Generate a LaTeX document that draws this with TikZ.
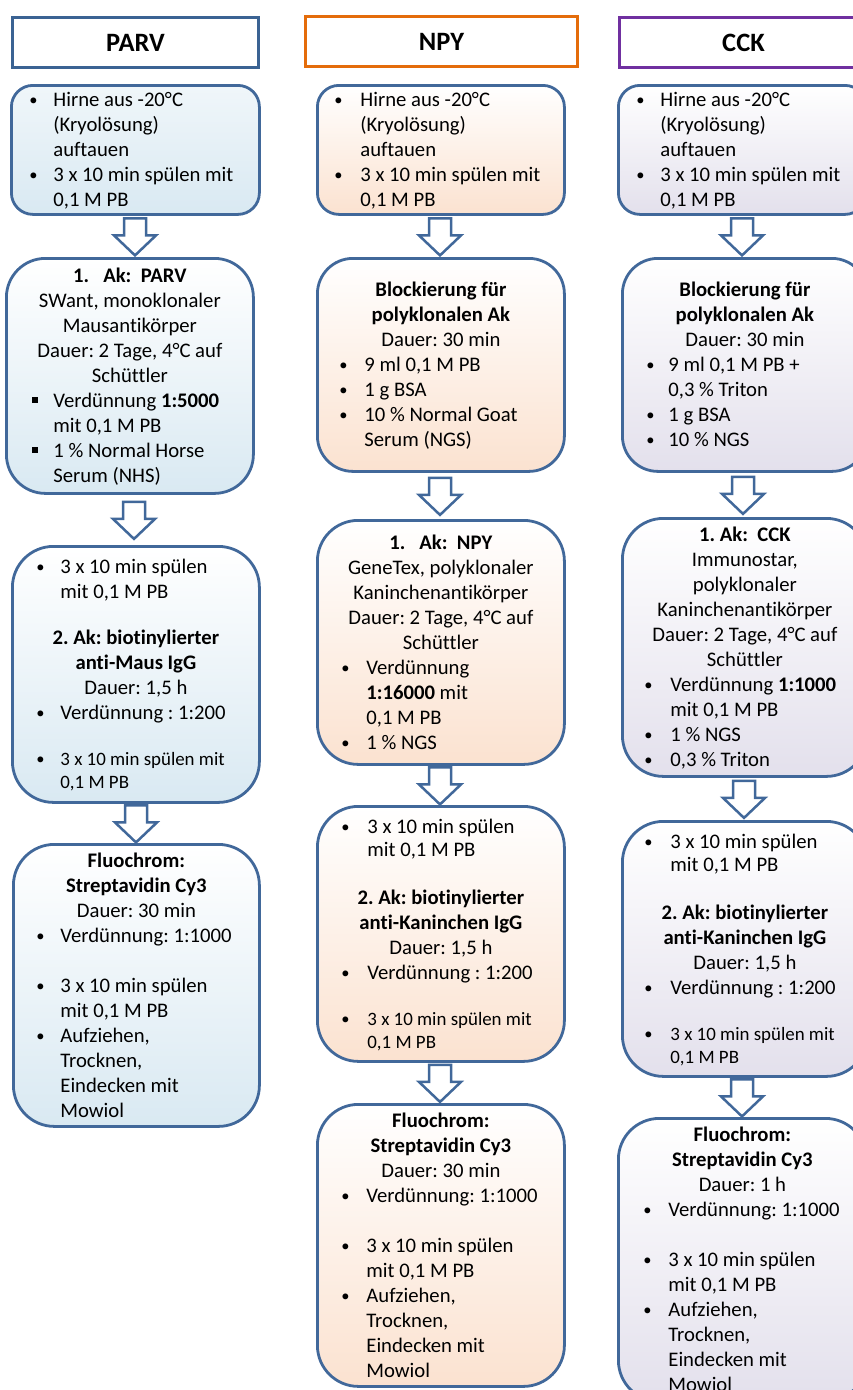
\documentclass[tikz,border=0pt]{standalone}
\usepackage{fontspec}
\setmainfont{Carlito}[Ligatures={NoCommon}]
\frenchspacing
\usetikzlibrary{calc}
\definecolor{bord}{HTML}{41689A}
\definecolor{parvh}{HTML}{3B6393}
\definecolor{npyh}{HTML}{E46C0A}
\definecolor{cckh}{HTML}{7030A0}
\definecolor{parvc}{HTML}{D9E9F2}
\definecolor{npyc}{HTML}{FBE2D0}
\definecolor{cckc}{HTML}{E3E0EC}
\newlength\bulind
\newlength\txtind
\newcommand\lnst{\vrule height19.5pt depth5.5pt width0pt}
\newcommand\lnsts{\vrule height17.5pt depth5.5pt width0pt}
\newcommand\bodyfont{\fontsize{20.7pt}{0pt}\selectfont\frenchspacing\lineskip=0pt\lineskiplimit=0pt\spaceskip=0pt\xspaceskip=0pt}
\newcommand\smallfnt{\fontsize{18.9pt}{0pt}\selectfont}
\newcommand\titlefont{\fontsize{26.5pt}{30pt}\selectfont\bfseries}
\newcommand\dotb{\raisebox{1.4pt}{\fontsize{16.5pt}{0pt}\selectfont •}}
\newcommand\bul[1]{\lnst\hspace*{\bulind}\makebox[\dimexpr\txtind-\bulind\relax][l]{\dotb}#1}
\newcommand\sqb[1]{\lnst\hspace*{\bulind}\makebox[\dimexpr\txtind-\bulind\relax][l]{\rule[5pt]{5.5pt}{5.5pt}}#1}
\newcommand\ind[1]{\lnst\hspace*{\txtind}#1}
\newcommand\indt[1]{\lnsts\hspace*{\txtind}#1}
\newcommand\bulS[1]{\lnsts{\smallfnt\hspace*{\bulind}\makebox[\dimexpr\txtind-\bulind\relax][l]{\dotb}#1}}
\newcommand\indS[1]{\lnsts{\smallfnt\hspace*{\txtind}#1}}
\newcommand\cnt[1]{\lnst\makebox[\linewidth][c]{#1}}
\newcommand\blank[1]{\vrule height#1 depth0pt width0pt}
\newcommand\blkarr[3]{%
  \draw[arrw] let \p1=(#1.south), \p2=(#2.north), \n1={0.5*(\y1+\y2)} in
    (#3pt-11pt,\n1+18pt) -- (#3pt-11pt,\n1+1pt) -- (#3pt-21pt,\n1+1pt) --
    (#3pt,\n1-19pt) -- (#3pt+21pt,\n1+1pt) -- (#3pt+11pt,\n1+1pt) --
    (#3pt+11pt,\n1+18pt) -- cycle;}
\tikzset{
  hdr/.style={draw=#1, line width=3pt, fill=white, anchor=north west,
    inner sep=0pt, font=\titlefont},
  bx/.style n args={6}{draw=bord, line width=2.8pt, rounded corners=#3,
    top color=white, bottom color=#4, anchor=north west, inner sep=0pt,
    minimum width=#1, minimum height=#2, text width=#1, align=flush left,
    font=\bodyfont, /utils/exec={\setlength\bulind{#5}\setlength\txtind{#6}}},
  arrw/.style={draw=bord, line width=2.5pt, fill=white, line join=miter}
}
\begin{document}
\begin{tikzpicture}[x=1pt,y=-1pt]
\path[use as bounding box] (0,0) rectangle (853,1390);
\clip (0,0) rectangle (853,1390);
% headers
\node[hdr=parvh, minimum width=246pt, minimum height=50pt] (hp) at (11,16) {PARV};
\node[hdr=npyh, minimum width=272pt, minimum height=50pt] (hn) at (304,15) {NPY};
\node[hdr=cckh, minimum width=248pt, minimum height=50pt] (hc) at (618,16) {CCK};
% PARV column
\node[bx={248pt}{129pt}{21.5pt}{parvc}{18pt}{42pt}, top color=parvc!40] (p1) at (10,84)
 {\bul{Hirne aus -20°C}\\ \ind{(Kryolösung)}\\ \ind{auftauen}\\ \bul{3 x 10 min spülen mit}\\ \ind{0,1 M PB}};
\node[bx={247pt}{235pt}{39pt}{parvc}{26pt}{47pt}] (p2) at (5,257)
 {\cnt{\textbf{1.\ \ \ Ak:\ \ PARV}}\\ \cnt{SWant, monoklonaler}\\ \cnt{Mausantikörper}\\ \cnt{Dauer: 2 Tage, 4°C auf}\\ \cnt{Schüttler}\\ \sqb{Verdünnung \textbf{1:5000}}\\ \ind{mit 0,1 M PB}\\ \sqb{1 \% Normal Horse}\\ \ind{Serum (NHS)}};
\node[bx={247pt}{256pt}{41pt}{parvc}{24pt}{48pt}] (p3) at (11,545)
 {\bul{3 x 10 min spülen}\\ \ind{mit 0,1 M PB}\\ \blank{21pt}\\ \cnt{\textbf{2. Ak: biotinylierter}}\\ \cnt{\textbf{anti-Maus IgG}}\\ \cnt{Dauer: 1,5 h}\\ \bul{Verdünnung : 1:200}\\ \blank{23pt}\\ \bulS{3 x 10 min spülen mit}\\ \indS{0,1 M PB}};
\node[bx={246pt}{282pt}{41pt}{parvc}{23pt}{47pt}] (p4) at (12,843)
 {\cnt{\textbf{Fluochrom:}}\\ \cnt{\textbf{Streptavidin Cy3}}\\ \cnt{Dauer: 30 min}\\ \bul{Verdünnung: 1:1000}\\ \blank{25pt}\\ \bul{3 x 10 min spülen}\\ \ind{mit 0,1 M PB}\\ \bul{Aufziehen,}\\ \ind{Trocknen,}\\ \ind{Eindecken mit}\\ \ind{Mowiol}};
% NPY column
\node[bx={247pt}{129pt}{21.5pt}{npyc}{17pt}{43pt}] (n1) at (316,84)
 {\bul{Hirne aus -20°C}\\ \ind{(Kryolösung)}\\ \ind{auftauen}\\ \bul{3 x 10 min spülen mit}\\ \ind{0,1 M PB}};
\node[bx={247pt}{213pt}{35.5pt}{npyc}{22pt}{47pt}] (n2) at (316,257)
 {\cnt{\textbf{Blockierung für}}\\ \cnt{\textbf{polyklonalen Ak}}\\ \cnt{Dauer: 30 min}\\ \bul{9 ml 0,1 M PB}\\ \bul{1 g BSA}\\ \bul{10 \% Normal Goat}\\ \ind{Serum (NGS)}};
\node[bx={247pt}{244pt}{40.7pt}{npyc}{24pt}{49pt}] (n3) at (316,519)
 {\cnt{\textbf{1.\ \ \ Ak:\ \ NPY}}\\ \cnt{GeneTex, polyklonaler}\\ \cnt{Kaninchenantikörper}\\ \cnt{Dauer: 2 Tage, 4°C auf}\\ \cnt{Schüttler}\\ \bul{Verdünnung}\\ \ind{\textbf{1:16000} mit}\\ \ind{0,1 M PB}\\ \bul{1 \% NGS}};
\node[bx={247pt}{255pt}{41pt}{npyc}{24pt}{50pt}] (n4) at (316,805)
 {\bul{3 x 10 min spülen}\\ \indt{mit 0,1 M PB}\\ \blank{23pt}\\ \cnt{\textbf{2. Ak: biotinylierter}}\\ \cnt{\textbf{anti-Kaninchen IgG}}\\ \cnt{Dauer: 1,5 h}\\ \bul{Verdünnung : 1:200}\\ \blank{23pt}\\ \bulS{3 x 10 min spülen mit}\\ \indS{0,1 M PB}};
\node[bx={247pt}{282pt}{41pt}{npyc}{24pt}{49pt}] (n5) at (316,1103)
 {\cnt{\textbf{Fluochrom:}}\\ \cnt{\textbf{Streptavidin Cy3}}\\ \cnt{Dauer: 30 min}\\ \bul{Verdünnung: 1:1000}\\ \blank{25pt}\\ \bul{3 x 10 min spülen}\\ \ind{mit 0,1 M PB}\\ \bul{Aufziehen,}\\ \ind{Trocknen,}\\ \ind{Eindecken mit}\\ \ind{Mowiol}};
% CCK column
\node[bx={248pt}{129pt}{21.5pt}{cckc}{18pt}{42pt}] (c1) at (617,84)
 {\bul{Hirne aus -20°C}\\ \ind{(Kryolösung)}\\ \ind{auftauen}\\ \bul{3 x 10 min spülen mit}\\ \ind{0,1 M PB}};
\node[bx={245pt}{213pt}{35.5pt}{cckc}{24pt}{46pt}] (c2) at (621,257)
 {\cnt{\textbf{Blockierung für}}\\ \cnt{\textbf{polyklonalen Ak}}\\ \cnt{Dauer: 30 min}\\ \bul{9 ml 0,1 M PB +}\\ \ind{0,3 \% Triton}\\ \bul{1 g BSA}\\ \bul{10 \% NGS}};
\node[bx={245pt}{258pt}{41pt}{cckc}{22pt}{48pt}] (c3) at (621,517)
 {\cnt{\textbf{1. Ak:\ \ CCK}}\\ \cnt{Immunostar,}\\ \cnt{polyklonaler}\\ \cnt{Kaninchenantikörper}\\ \cnt{Dauer: 2 Tage, 4°C auf}\\ \cnt{Schüttler}\\ \bul{Verdünnung \textbf{1:1000}}\\ \ind{mit 0,1 M PB}\\ \bul{1 \% NGS}\\ \bul{0,3 \% Triton}};
\node[bx={245pt}{255pt}{41pt}{cckc}{22pt}{48pt}] (c4) at (621,820)
 {\bul{3 x 10 min spülen}\\ \indt{mit 0,1 M PB}\\ \blank{23pt}\\ \cnt{\textbf{2. Ak: biotinylierter}}\\ \cnt{\textbf{anti-Kaninchen IgG}}\\ \cnt{Dauer: 1,5 h}\\ \bul{Verdünnung : 1:200}\\ \blank{23pt}\\ \bulS{3 x 10 min spülen mit}\\ \indS{0,1 M PB}};
\node[bx={248pt}{283pt}{41pt}{cckc}{25pt}{50pt}] (c5) at (617,1117)
 {\cnt{\textbf{Fluochrom:}}\\ \cnt{\textbf{Streptavidin Cy3}}\\ \cnt{Dauer: 1 h}\\ \bul{Verdünnung: 1:1000}\\ \blank{25pt}\\ \bul{3 x 10 min spülen}\\ \ind{mit 0,1 M PB}\\ \bul{Aufziehen,}\\ \ind{Trocknen,}\\ \ind{Eindecken mit}\\ \ind{Mowiol}};
% block arrows
\blkarr{p1}{p2}{135}
\blkarr{p2}{p3}{134}
\blkarr{p3}{p4}{136}
\blkarr{n1}{n2}{440}
\blkarr{n2}{n3}{440}
\blkarr{n3}{n4}{440}
\blkarr{n4}{n5}{440}
\blkarr{c1}{c2}{742}
\blkarr{c2}{c3}{743}
\blkarr{c3}{c4}{744}
\blkarr{c4}{c5}{742}
\end{tikzpicture}
\end{document}
